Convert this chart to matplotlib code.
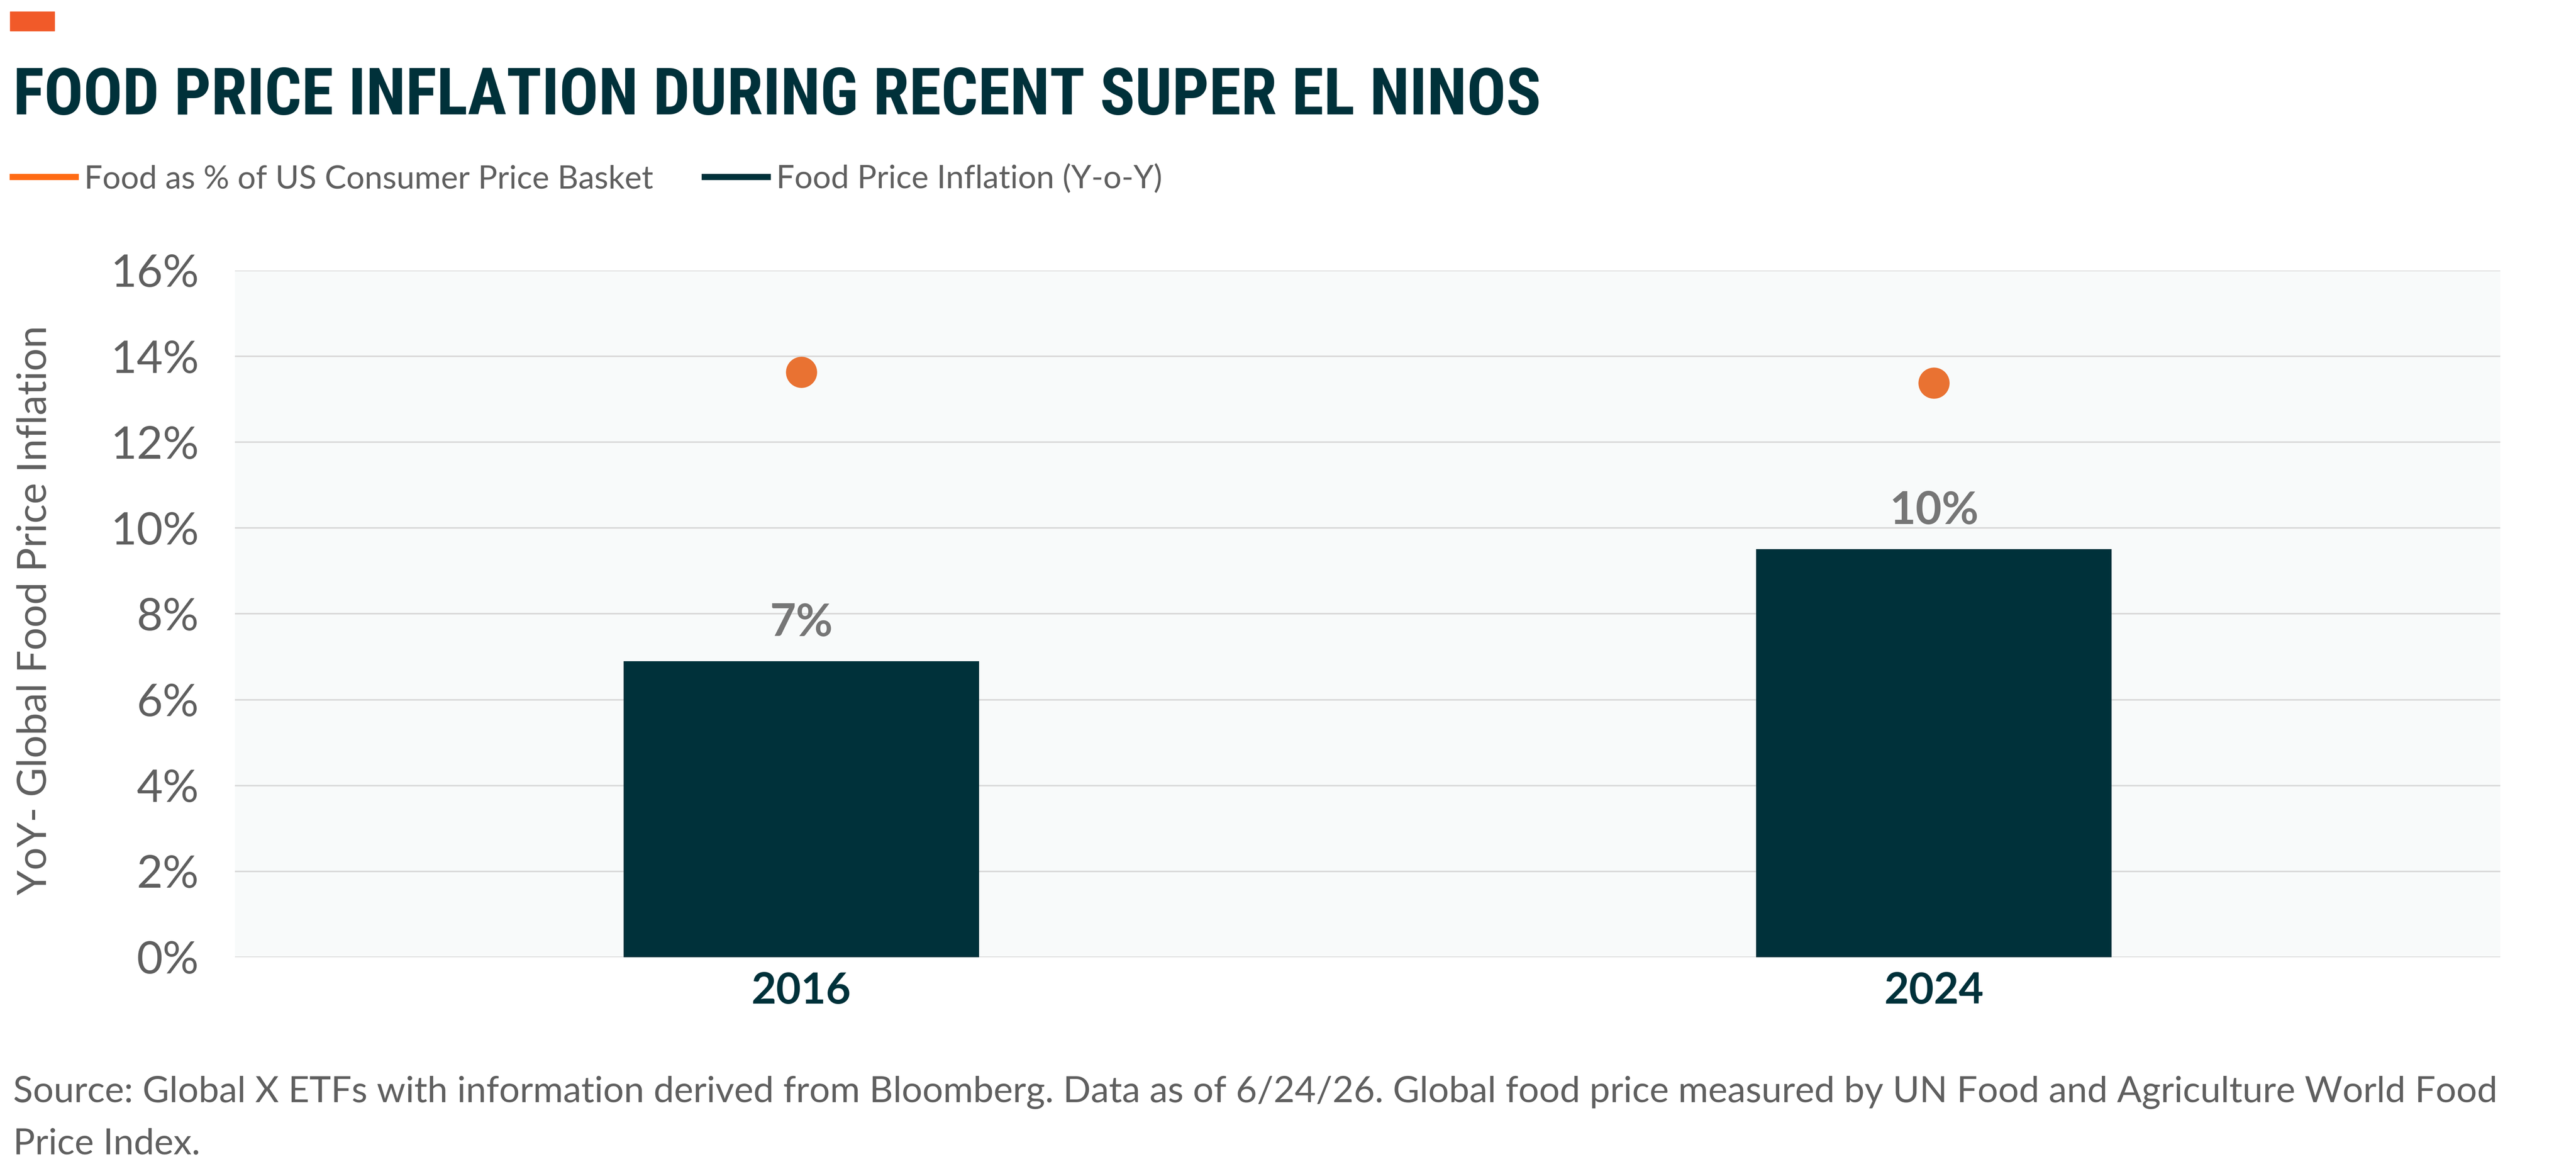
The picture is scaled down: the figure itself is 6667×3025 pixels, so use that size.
import matplotlib
matplotlib.use("Agg")
import matplotlib.pyplot as plt
from matplotlib.lines import Line2D
from matplotlib.patches import Rectangle

years = ["2016", "2024"]
food_inflation = [6.9, 9.51]
food_share = [13.63, 13.38]
yticks = [0, 2, 4, 6, 8, 10, 12, 14, 16]
ytick_labels = ["0%", "2%", "4%", "6%", "8%", "10%", "12%", "14%", "16%"]

teal = "#00313A"
orange_dot = "#E97232"
orange_leg = "#FF6A13"
gray = "#5F5F5F"

title_font = ["Roboto Condensed", "Roboto", "DejaVu Sans"]
body_font = ["Lato", "DejaVu Sans"]

fig = plt.figure(figsize=(66.67, 30.25), dpi=100)
ax = fig.add_axes([0.0912, 0.1812, 0.8794, 0.5874])
ax.set_facecolor("#F8FAFA")

x = range(len(years))
bars = ax.bar(x, food_inflation, width=0.314, color=teal, zorder=3)
ax.plot(x, food_share, "o", color=orange_dot, markersize=57, zorder=4)
ax.bar_label(bars, labels=[f"{v:.0f}%" for v in food_inflation], padding=32,
             fontsize=84, fontweight="bold", color="#767676", family=body_font)

ax.set_xlim(-0.5, 1.5)
ax.set_ylim(0, 16)
ax.set_yticks(yticks)
ax.set_yticklabels(ytick_labels, fontsize=84, color=gray, family=body_font)
ax.set_xticks(list(x))
ax.set_xticklabels(years, fontsize=80, fontweight="bold", color=teal, family=body_font)
ax.tick_params(axis="y", length=0, pad=67)
ax.tick_params(axis="x", length=0, pad=27)
ax.grid(axis="y", color="#D9D9D9", linewidth=2.9, zorder=0)
for s in ax.spines.values():
    s.set_visible(False)

fig.text(0.0135, 0.478, "YoY- Global Food Price Inflation", rotation=90,
         ha="center", va="center", fontsize=75, color=gray, family=body_font)

fig.patches.append(Rectangle((0.0039, 0.9736), 0.01725, 0.01653,
                             transform=fig.transFigure, color="#F15A29"))
fig.text(0.0051, 0.9021, "FOOD PRICE INFLATION DURING RECENT SUPER EL NINOS",
         fontsize=121, fontweight="bold", color=teal, family=title_font, va="baseline")

handles = [Line2D([], [], color=orange_leg, lw=11.5),
           Line2D([], [], color=teal, lw=11.5)]
leg = fig.legend(handles, ["Food as % of US Consumer Price Basket", "Food Price Inflation (Y-o-Y)"],
                 loc="center left", bbox_to_anchor=(0.005, 0.8466), ncol=2, frameon=False,
                 handlelength=1.95, handletextpad=0.27, columnspacing=1.6,
                 borderpad=0, borderaxespad=0, prop={"family": body_font, "size": 60})
for t in leg.get_texts():
    t.set_color(gray)

fig.text(0.0051, 0.0572, "Source: Global X ETFs with information derived from Bloomberg. Data as of 6/24/26. "
         "Global food price measured by UN Food and Agriculture World Food",
         fontsize=68, color=gray, family=body_font, va="baseline")
fig.text(0.0051, 0.0126, "Price Index.", fontsize=68, color=gray, family=body_font, va="baseline")

fig.savefig("out.png", dpi=100)
